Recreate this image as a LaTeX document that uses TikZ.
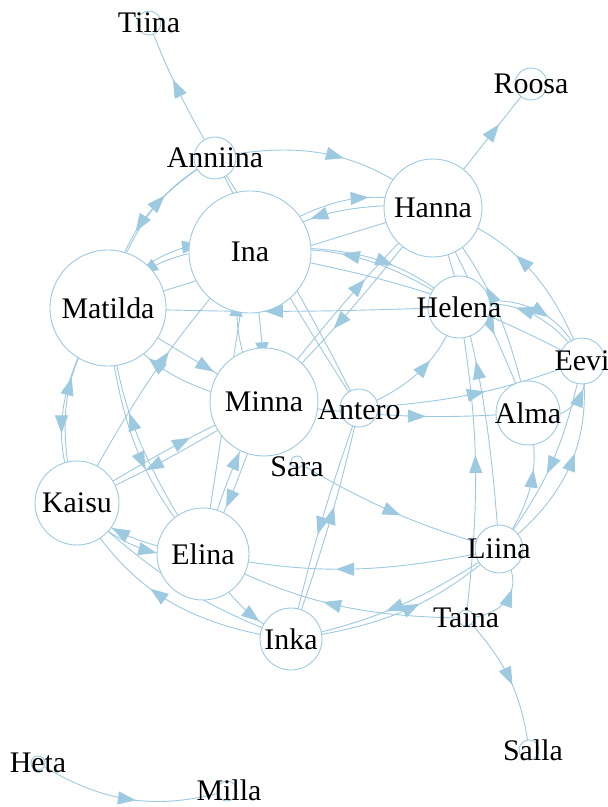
\documentclass[tikz,border=0pt]{standalone}
\usepackage{fontspec}
\setmainfont{Liberation Serif}
\usetikzlibrary{arrows.meta,decorations.markings}
\pgfdeclarelayer{background}
\pgfdeclarelayer{foreground}
\pgfsetlayers{background,main,foreground}
\definecolor{ec}{HTML}{9ECAE1}
\tikzset{
  nd/.style={circle, draw=ec, fill=white, line width=0.9bp, inner sep=0pt, minimum size=#1},
  lb/.style={font=\fontsize{30}{36}\selectfont, inner sep=0pt, text=black},
  ed/.style={draw=ec, line width=0.9bp, postaction={decorate},
    decoration={markings, mark=at position #1 with {\arrow[xshift=3bp,color=ec]{Triangle[length=18bp,width=13bp]}}}},
  ed/.default=0.5,
}
\begin{document}
\begin{tikzpicture}[x=1bp,y=1bp]
\useasboundingbox (0,0) rectangle (608,-807);
% nodes
\node[nd=24bp]  (Ti) at (149,-23) {};
\node[nd=32bp]  (Ro) at (531,-84) {};
\node[nd=42bp]  (An) at (215,-158) {};
\node[nd=98bp]  (Ha) at (433,-208) {};
\node[nd=122bp] (In) at (250,-252) {};
\node[nd=116bp] (Ma) at (108,-308) {};
\node[nd=62bp]  (He) at (459,-307) {};
\node[nd=46bp]  (Ev) at (582,-361) {};
\node[nd=64bp]  (Al) at (528,-413) {};
\node[nd=38bp]  (At) at (359,-408) {};
\node[nd=108bp] (Mi) at (264,-402) {};
\node[nd=12bp]  (Sa) at (297,-462) {};
\node[nd=84bp]  (Ka) at (77,-503) {};
\node[nd=92bp]  (El) at (203,-554) {};
\node[nd=62bp]  (Ik) at (291,-639) {};
\node[nd=48bp]  (Li) at (499,-549) {};
\node[nd=16bp]  (Ta) at (466,-618) {};
\node[nd=20bp]  (Sl) at (529,-750) {};
\node[nd=14bp]  (Ht) at (38,-763) {};
\node[nd=20bp]  (Ml) at (227,-791) {};
\begin{pgfonlayer}{background}
\fill[white] (0,0) rectangle (608,-807);
\draw[ed] (An) to[bend left=4] (Ti.center);
\draw[ed] (Ha) -- (Ro.center);
\draw[ed] (An) to[bend left=24] (Ha.center);
\draw[ed] (An) to[bend right=22] (Ma.center);
\draw[ed] (Ma) to[bend left=17] (An.center);
\draw[ed] (An) to[bend left=3] (At.center);
\draw[ed] (At) to[bend left=3] (An.center);
\draw[ed] (Ma) to[bend left=26] (In.center);
\draw[ed] (In) to[bend right=20] (Ma.center);
\draw[ed] (Ma) -- (Ha.center);
\draw[ed] (In) to[bend left=22] (Ha.center);
\draw[ed] (Ha) to[bend right=16] (In.center);
\draw[ed] (In) to[bend left=18] (He.center);
\draw[ed] (He) to[bend right=18] (In.center);
\draw[ed] (In) to[bend left=8] (Ev.center);
\draw[ed] (He) to[bend left=2] (Ma.center);
\draw[ed] (Li) to[bend right=7] (Ha.center);
\draw[ed] (Ha) to[bend left=2] (Al.center);
\draw[ed] (Al) to[bend right=12] (Ha.center);
\draw[ed] (Ev) to[bend right=23] (Ha.center);
\draw[ed] (He) to[bend left=35] (Ev.center);
\draw[ed] (Ev) to[bend right=30] (He.center);
\draw[ed] (At) to[bend right=22] (He.center);
\draw[ed] (At) to[bend right=8] (Ev.center);
\draw[ed] (Mi) to[bend right=5] (Al.center);
\draw[ed] (Al) to[bend right=45] (Ev.center);
\draw[ed] (Li) to[bend right=28] (Ev.center);
\draw[ed] (Ev) to[bend left=12] (Li.center);
\draw[ed] (Li) to[bend right=22] (Al.center);
\draw[ed] (Ta) to[bend right=8] (He.center);
\draw[ed] (Sa) to[bend right=7] (Li.center);
\draw[ed] (Li) to[bend left=11] (El.center);
\draw[ed] (Li) to[bend left=10] (Ik.center);
\draw[ed] (Ik) to[bend right=15] (Li.center);
\draw[ed] (Ta) to[bend right=60,looseness=1.4] (Li.center);
\draw[ed] (Ta) to[bend left=13] (El.center);
\draw[ed] (Ik) to[bend left=24] (Ka.center);
\draw[ed] (El) to[bend left=12] (Ka.center);
\draw[ed] (Ka) to[bend right=20] (El.center);
\draw[ed] (El) to[bend right=12] (Ik.center);
\draw[ed] (Ka) to[bend right=10] (Ik.center);
\draw[ed] (Ik) to[bend right=3] (At.center);
\draw[ed] (At) to[bend right=3] (Ik.center);
\draw[ed] (El) to[bend left=4] (Mi.center);
\draw[ed] (Mi) to[bend left=4] (El.center);
\draw[ed] (El) -- (In.center);
\draw[ed] (In) to[bend left=3] (Mi.center);
\draw[ed] (Mi) to[bend left=18] (In.center);
\draw[ed] (Ka) to[bend left=3] (Mi.center);
\draw[ed] (Mi) to[bend left=3] (Ka.center);
\draw[ed] (Ka) to[bend left=6] (In.center);
\draw[ed] (Ka) to[bend left=22] (Ma.center);
\draw[ed] (Ma) to[bend right=22] (Ka.center);
\draw[ed] (Ma) to[bend right=15] (El.center);
\draw[ed] (El) to[bend left=12] (Ma.center);
\draw[ed] (Ma) -- (Mi.center);
\draw[ed] (Mi) to[bend left=20] (Ma.center);
\draw[ed] (Mi) to[bend left=3] (Ha.center);
\draw[ed] (Ha) to[bend left=3] (Mi.center);
\draw[ed] (Ht) to[bend right=23] (Ml.center);
\draw[ed] (Ta) to[bend left=17] (Sl.center);
\end{pgfonlayer}
\begin{pgfonlayer}{foreground}
\node[lb] at (Ti) {Tiina};
\node[lb] at (Ro) {Roosa};
\node[lb] at (An) {Anniina};
\node[lb] at (Ha) {Hanna};
\node[lb] at (In) {Ina};
\node[lb] at (Ma) {Matilda};
\node[lb] at (He) {Helena};
\node[lb] at (Ev) {Eevi};
\node[lb] at (Al) {Alma};
\node[lb] at ([yshift=-2bp]At.center) {Antero};
\node[lb] at (Mi) {Minna};
\node[lb] at ([yshift=-5bp]Sa.center) {Sara};
\node[lb] at (Ka) {Kaisu};
\node[lb] at (El) {Elina};
\node[lb] at (Ik) {Inka};
\node[lb] at (Li) {Liina};
\node[lb] at (Ta) {Taina};
\node[lb] at ([xshift=4bp]Sl.center) {Salla};
\node[lb] at (Ht) {Heta};
\node[lb] at ([xshift=2bp,yshift=1bp]Ml.center) {Milla};
\end{pgfonlayer}
\end{tikzpicture}
\end{document}
